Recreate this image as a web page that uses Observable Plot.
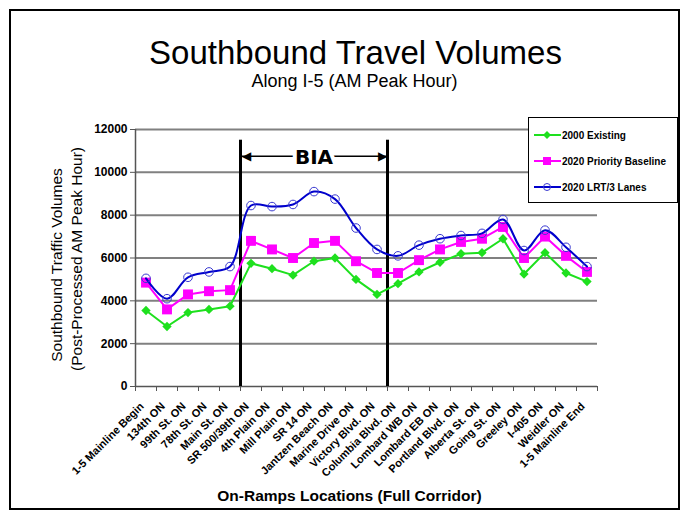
<!DOCTYPE html>
<html>
<head>
<meta charset="utf-8">
<script src="https://cdn.jsdelivr.net/npm/d3@7"></script>
<script src="https://cdn.jsdelivr.net/npm/@observablehq/plot@0.6"></script>
<style>
  body { margin: 0; background: #fff; }
  #wrap { position: relative; width: 687px; height: 518px; font-family: "Liberation Sans", Arial, sans-serif; }
  #frame { position: absolute; left: 9px; top: 9px; width: 667px; height: 497px; border: 2px solid #000; pointer-events: none; }
  #legend { position: absolute; left: 528px; top: 117px; width: 148px; height: 84px; border: 1.5px solid #000; background: #fff; }
  .item { position: absolute; left: 5px; height: 16px; display: flex; align-items: center; font-weight: bold; font-size: 10px; white-space: nowrap; }
  .item svg { margin-right: 1px; }
</style>
</head>
<body>
<div id="wrap"><div id="frame"></div></div>
<script>
const categories = ["1-5 Mainline Begin","134th ON","99th St. ON","78th St. ON","Main St. ON","SR 500/39th ON","4th Plain ON","Mill Plain ON","SR 14 ON","Jantzen Beach ON","Marine Drive ON","Victory Blvd. ON","Columbia Blvd. ON","Lombard WB ON","Lombard EB ON","Portland Blvd. ON","Alberta St. ON","Going St. ON","Greeley ON","I-405 ON","Weidler ON","1-5 Mainline End"];
const existing2000 = [3550, 2800, 3450, 3600, 3750, 5750, 5500, 5200, 5850, 6000, 5000, 4300, 4800, 5350, 5800, 6200, 6250, 6900, 5250, 6250, 5300, 4900];
const priority2020 = [4850, 3600, 4300, 4450, 4500, 6800, 6400, 6000, 6700, 6800, 5850, 5300, 5300, 5900, 6400, 6750, 6900, 7450, 6000, 7000, 6100, 5350];
const lrt2020 = [5050, 4100, 5100, 5350, 5600, 8450, 8400, 8500, 9100, 8750, 7400, 6400, 6100, 6600, 6900, 7050, 7150, 7800, 6350, 7300, 6500, 5600];
const seriesNames = ["2000 Existing", "2020 Priority Baseline", "2020 LRT/3 Lanes"];
const yTicks = [0, 2000, 4000, 6000, 8000, 10000, 12000];
const biaBounds = [5, 12];      // category boundaries enclosing the BIA segment
const biaLabel = "BIA";
const biaTop = 11500;
const biaArrowY = 10750;

const green = "#1ee01e", pink = "#ff00ff", blue = "#0000cc";
const font = "Liberation Sans, Arial, sans-serif";
const xi = (d, i) => i + 0.5;
const boundaries = d3.range(categories.length + 1);

const chart = Plot.plot({
  width: 687, height: 518,
  marginLeft: 135, marginRight: 90, marginTop: 129, marginBottom: 132,
  style: { fontFamily: font, background: "transparent", overflow: "visible" },
  x: { domain: [0, categories.length], axis: null },
  y: { domain: [0, 12000], axis: null },
  marks: [
    Plot.ruleY(yTicks.slice(1), { stroke: "#808080", strokeWidth: 2 }),
    Plot.axisY({ ticks: yTicks, tickSize: 5, tickPadding: 3, tickFormat: d => String(d), fontSize: 12, fontWeight: "bold", fill: "#000", stroke: "#555", label: null }),
    Plot.axisX({ ticks: boundaries, tickSize: 5, tickFormat: () => "", stroke: "#555", label: null }),
    Plot.ruleX([0], { stroke: "#555", strokeWidth: 1.5 }),
    Plot.ruleY([0], { stroke: "#555", strokeWidth: 1.5 }),
    // BIA annotation
    Plot.ruleX(biaBounds, { y1: 0, y2: biaTop, stroke: "#000", strokeWidth: 3 }),
    Plot.link([biaBounds], { x1: d => d[0], x2: d => d[1], y1: biaArrowY, y2: biaArrowY, stroke: "#000", strokeWidth: 1.5 }),
    Plot.text([biaBounds[0]], { x: d => d, y: biaArrowY, text: () => "\u25C0", textAnchor: "start", dx: 1, fontSize: 12, fill: "#000" }),
    Plot.text([biaBounds[1]], { x: d => d, y: biaArrowY, text: () => "\u25B6", textAnchor: "end", dx: -1, fontSize: 12, fill: "#000" }),
    Plot.text([biaLabel], { x: (biaBounds[0] + biaBounds[1]) / 2, y: biaArrowY, text: d => d, fontFamily: "DejaVu Sans", fontWeight: "bold", fontSize: 20, fill: "#000", stroke: "#fff", strokeWidth: 8, paintOrder: "stroke", dy: 1 }),
    // series
    Plot.line(existing2000, { x: xi, y: d => d, stroke: green, strokeWidth: 2 }),
    Plot.dot(existing2000, { x: xi, y: d => d, symbol: "diamond2", r: 4.2, fill: green }),
    Plot.line(priority2020, { x: xi, y: d => d, stroke: pink, strokeWidth: 2 }),
    Plot.dot(priority2020, { x: xi, y: d => d, symbol: "square", r: 5.6, fill: pink }),
    Plot.line(lrt2020, { x: xi, y: d => d, stroke: blue, strokeWidth: 2, curve: "catmull-rom" }),
    Plot.dot(lrt2020, { x: xi, y: d => d, r: 4.3, stroke: "#3a3ad0", strokeWidth: 1, fill: "none" }),
    // x tick labels
    Plot.text(categories, { x: xi, y: 0, text: d => d, rotate: -45, textAnchor: "end", dx: -4, dy: 18, fontSize: 11, fontWeight: "bold", fill: "#000" }),
    // titles
    Plot.text(["Southbound Travel Volumes"], { frameAnchor: "top-left", textAnchor: "middle", lineAnchor: "middle", text: d => d, dx: 220, dy: -76, fontSize: 33, fill: "#000" }),
    Plot.text(["Along I-5 (AM Peak Hour)"], { frameAnchor: "top-left", textAnchor: "middle", lineAnchor: "middle", text: d => d, dx: 219, dy: -48.5, fontSize: 18, fill: "#000" }),
    Plot.text(["On-Ramps Locations (Full Corridor)"], { frameAnchor: "top-left", textAnchor: "middle", lineAnchor: "middle", text: d => d, dx: 214, dy: 367, fontSize: 15.5, fontWeight: "bold", fill: "#000" }),
    Plot.text(["Southbound Traffic Volumes"], { frameAnchor: "left", textAnchor: "middle", lineAnchor: "middle", text: d => d, rotate: -90, dx: -78, dy: 7, fontSize: 15.5, fill: "#000" }),
    Plot.text(["(Post-Processed AM Peak Hour)"], { frameAnchor: "left", textAnchor: "middle", lineAnchor: "middle", text: d => d, rotate: -90, dx: -58, dy: 1, fontSize: 15.5, fill: "#000" })
  ]
});
const wrap = document.getElementById("wrap");
wrap.insertBefore(chart, wrap.firstChild);

// legend
const legend = document.createElement("div");
legend.id = "legend";
const swatch = (color, kind) => {
  let m = "";
  if (kind === "diamond") m = `<path d="M13,3 L17,7 L13,11 L9,7 Z" fill="${color}"/>`;
  if (kind === "square") m = `<rect x="9" y="3" width="8" height="8" fill="${color}"/>`;
  if (kind === "circle") m = `<circle cx="13" cy="7" r="3.5" fill="none" stroke="#3a3ad0" stroke-width="1"/>`;
  return `<svg width="27" height="14"><line x1="0" y1="7" x2="27" y2="7" stroke="${color}" stroke-width="2"/>${m}</svg>`;
};
const kinds = [[green, "diamond"], [pink, "square"], [blue, "circle"]];
const tops = [9, 35, 61];
seriesNames.forEach((name, i) => {
  const it = document.createElement("div");
  it.className = "item";
  it.style.top = tops[i] + "px";
  it.innerHTML = swatch(kinds[i][0], kinds[i][1]) + `<span>${name}</span>`;
  legend.appendChild(it);
});
wrap.appendChild(legend);
</script>
</body>
</html>
